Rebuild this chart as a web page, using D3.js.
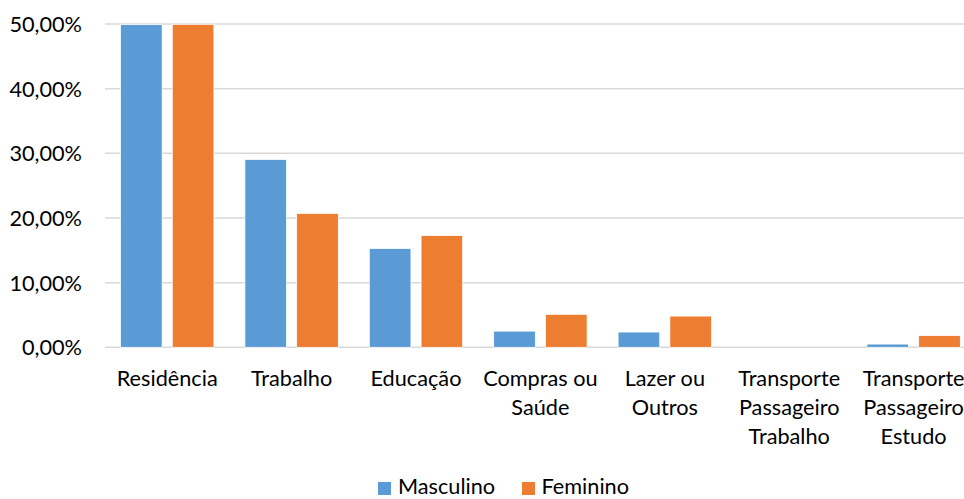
<!DOCTYPE html>
<html>
<head>
<meta charset="utf-8">
<script src="https://cdn.jsdelivr.net/npm/d3@7"></script>
<style>
  html, body { margin: 0; padding: 0; background: #fff; overflow: hidden; }
  svg { display: block; font-family: Lato, "Liberation Sans", sans-serif; }
</style>
</head>
<body>
<svg id="chart" width="964" height="499"></svg>
<script>
const categories = [
  ["Residência"],
  ["Trabalho"],
  ["Educação"],
  ["Compras ou", "Saúde"],
  ["Lazer ou", "Outros"],
  ["Transporte", "Passageiro", "Trabalho"],
  ["Transporte", "Passageiro", "Estudo"]
];
const seriesNames = ["Masculino", "Feminino"];
const seriesColors = ["#5B9BD5", "#ED7D31"];
const masculino = [0.499, 0.2905, 0.1528, 0.025, 0.0236, 0.0, 0.005];
const feminino  = [0.4995, 0.207, 0.1728, 0.051, 0.0483, 0.0, 0.018];
const yTicks = [0, 0.1, 0.2, 0.3, 0.4, 0.5];

const svg = d3.select("#chart");
const plotLeft = 105, plotRight = 975.8, plotTop = 24, plotBottom = 347.3;
const fontSize = 21.7;

const locale = d3.formatLocale({decimal: ",", thousands: ".", grouping: [3], currency: ["", ""]});
const fmt = locale.format(".2%");

const catKeys = categories.map(c => c.join(" "));
const x0 = d3.scaleBand().domain(catKeys).range([plotLeft, plotRight]).padding(0);
const x1 = d3.scaleBand().domain(seriesNames).range([15.5, x0.bandwidth() - 15.5]).paddingInner(0.196).paddingOuter(0);
const y = d3.scaleLinear().domain([0, 0.5]).range([plotBottom, plotTop]);

// gridlines
svg.append("g").selectAll("line").data(yTicks).join("line")
  .attr("x1", plotLeft).attr("x2", plotRight)
  .attr("y1", d => y(d)).attr("y2", d => y(d))
  .attr("stroke", "#D9D9D9").attr("stroke-width", 1.5);

// y axis labels
const yAxis = d3.axisLeft(y).tickValues(yTicks).tickFormat(fmt).tickSize(0).tickPadding(0);
const yg = svg.append("g").attr("transform", `translate(82,0)`).call(yAxis);
yg.select(".domain").remove();
yg.selectAll("text").attr("font-size", fontSize).attr("font-family", "Lato, sans-serif").attr("fill", "#000").attr("dy", "0.35em");

// bars
const data = categories.map((c, i) => ({key: catKeys[i], values: [masculino[i], feminino[i]]}));
const groups = svg.append("g").selectAll("g").data(data).join("g")
  .attr("transform", d => `translate(${x0(d.key)},0)`);
groups.selectAll("rect").data(d => d.values.map((v, j) => ({name: seriesNames[j], v, j})))
  .join("rect")
  .attr("x", d => x1(d.name))
  .attr("width", x1.bandwidth())
  .attr("y", d => y(d.v))
  .attr("height", d => y(0) - y(d.v))
  .attr("fill", d => seriesColors[d.j])
  .attr("stroke", "#fff").attr("stroke-width", 0.75);

// x axis labels
const xg = svg.append("g");
categories.forEach((lines, i) => {
  const cx = x0(catKeys[i]) + x0.bandwidth() / 2;
  const t = xg.append("text")
    .attr("x", cx)
    .attr("y", 386)
    .attr("text-anchor", "middle")
    .attr("font-size", fontSize)
    .attr("fill", "#000");
  lines.forEach((ln, k) => {
    t.append("tspan").attr("x", cx).attr("dy", k === 0 ? 0 : 29).text(ln);
  });
});

// legend
const legendItems = [{name: "Masculino", sx: 378, tx: 398}, {name: "Feminino", sx: 522, tx: 541.5}];
const lg = svg.append("g");
legendItems.forEach((it, i) => {
  lg.append("rect").attr("x", it.sx).attr("y", 482).attr("width", 13).attr("height", 13).attr("fill", seriesColors[i]);
  lg.append("text").attr("x", it.tx).attr("y", 494).attr("font-size", fontSize).attr("fill", "#000").text(it.name);
});
</script>
</body>
</html>
